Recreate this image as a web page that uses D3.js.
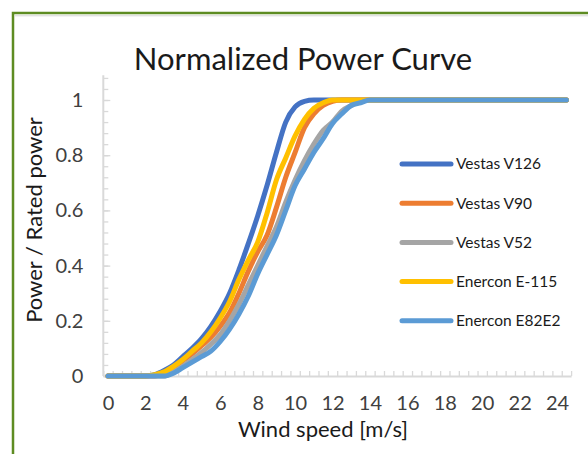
<!DOCTYPE html>
<html>
<head>
<meta charset="utf-8">
<script src="https://cdn.jsdelivr.net/npm/d3@7"></script>
<style>
  body { margin: 0; background: #fff; }
  svg { display: block; font-family: Lato, "Open Sans", sans-serif; }
</style>
</head>
<body>
<svg id="chart" width="588" height="454"></svg>
<script>
// wind speed categories [m/s]
var windSpeed = [0, 0.5, 1, 1.5, 2, 2.5, 3, 3.5, 4, 4.5, 5, 5.5, 6, 6.5, 7, 7.5, 8, 8.5, 9, 9.5,
  10, 10.5, 11, 11.5, 12, 12.5, 13, 13.5, 14, 14.5, 15, 15.5, 16, 16.5, 17, 17.5, 18, 18.5, 19, 19.5,
  20, 20.5, 21, 21.5, 22, 22.5, 23, 23.5, 24, 24.5]

// normalized power, P / P_rated
var vestasV126 = [0, 0, 0, 0, 0, 0.005, 0.02, 0.04, 0.07, 0.10, 0.135, 0.18, 0.235, 0.30, 0.385, 0.48, 0.58, 0.69, 0.81, 0.92,
  0.975, 0.995, 1, 1, 1, 1, 1, 1, 1, 1, 1, 1, 1, 1, 1, 1, 1, 1, 1, 1,
  1, 1, 1, 1, 1, 1, 1, 1, 1, 1]
var vestasV90 = [0, 0, 0, 0, 0, 0, 0.01, 0.03, 0.055, 0.08, 0.11, 0.14, 0.18, 0.23, 0.30, 0.38, 0.45, 0.51, 0.61, 0.72,
  0.81, 0.90, 0.95, 0.98, 0.995, 1, 1, 1, 1, 1, 1, 1, 1, 1, 1, 1, 1, 1, 1, 1,
  1, 1, 1, 1, 1, 1, 1, 1, 1, 1]
var vestasV52 = [0, 0, 0, 0, 0, 0, 0, 0.015, 0.035, 0.06, 0.085, 0.115, 0.15, 0.20, 0.26, 0.33, 0.40, 0.47, 0.54, 0.63,
  0.71, 0.78, 0.84, 0.89, 0.92, 0.96, 0.98, 0.995, 1, 1, 1, 1, 1, 1, 1, 1, 1, 1, 1, 1,
  1, 1, 1, 1, 1, 1, 1, 1, 1, 1]
var enerconE115 = [0, 0, 0, 0, 0, 0.005, 0.015, 0.035, 0.06, 0.09, 0.12, 0.16, 0.21, 0.27, 0.35, 0.42, 0.485, 0.59, 0.71, 0.79,
  0.87, 0.93, 0.97, 0.99, 1, 1, 1, 1, 1, 1, 1, 1, 1, 1, 1, 1, 1, 1, 1, 1,
  1, 1, 1, 1, 1, 1, 1, 1, 1, 1]
var enerconE82E2 = [0, 0, 0, 0, 0, 0, 0, 0.01, 0.03, 0.05, 0.07, 0.09, 0.125, 0.17, 0.225, 0.29, 0.37, 0.44, 0.51, 0.60,
  0.69, 0.75, 0.81, 0.86, 0.915, 0.95, 0.98, 0.99, 1, 1, 1, 1, 1, 1, 1, 1, 1, 1, 1, 1,
  1, 1, 1, 1, 1, 1, 1, 1, 1, 1]

var seriesNames = ["Vestas V126", "Vestas V90", "Vestas V52", "Enercon E-115", "Enercon E82E2"]
var seriesValues = [vestasV126, vestasV90, vestasV52, enerconE115, enerconE82E2]
var colors = ["#4472C4", "#ED7D31", "#A5A5A5", "#FFC000", "#5B9BD5"]

var xTickLabels = [0, 2, 4, 6, 8, 10, 12, 14, 16, 18, 20, 22, 24]
var yTickLabels = [0, 0.2, 0.4, 0.6, 0.8, 1]

var svg = d3.select("#chart")

// chart frame (green border, runs off right/bottom)
svg.append("rect")
  .attr("x", 13).attr("y", 13)
  .attr("width", 620).attr("height", 480)
  .attr("fill", "#fff")
  .attr("stroke", "#5E8C22")
  .attr("stroke-width", 2.5)

svg.append("line")
  .attr("x1", 15).attr("x2", 588)
  .attr("y1", 15.8).attr("y2", 15.8)
  .attr("stroke", "#d6d6d6").attr("stroke-width", 1)

// scales: category axis, each category 0.5 m/s wide
var x = d3.scaleLinear()
  .domain([-0.25, 24.75])
  .range([103.3, 571.1])

var y = d3.scaleLinear()
  .domain([0, 1])
  .range([376, 100])

var axisColor = "#d9d9d9"

// x axis minor ticks at category boundaries
var xBounds = windSpeed.map(d => d - 0.25).concat([24.75])
var xAxisG = svg.append("g")
  .attr("transform", "translate(0," + y(0) + ")")
  .call(d3.axisBottom(x).tickValues(xBounds).tickFormat("").tickSizeInner(-5).tickSizeOuter(0))
xAxisG.select(".domain").attr("stroke", axisColor).attr("stroke-width", 2)
xAxisG.selectAll(".tick line").attr("stroke", axisColor).attr("stroke-width", 1.3)

// x tick labels
var xLabelG = svg.append("g")
  .attr("transform", "translate(0," + y(0) + ")")
  .call(d3.axisBottom(x).tickValues(xTickLabels).tickSize(0).tickPadding(20))
xLabelG.select(".domain").remove()
xLabelG.selectAll("text")
  .attr("font-family", "Lato, sans-serif")
  .attr("font-size", 20)
  .attr("fill", "#404040")

// y axis: minor ticks every 0.04
var yMinor = d3.range(0, 28).map(i => +(i * 0.04).toFixed(2))
var yAxisG = svg.append("g")
  .attr("transform", "translate(" + x(-0.25) + ",0)")
  .call(d3.axisLeft(y).tickValues(yMinor).tickFormat("").tickSizeInner(-5).tickSizeOuter(0))
yAxisG.select(".domain").attr("d", "M0," + y(0) + "V" + y(1.09))
  .attr("stroke", axisColor).attr("stroke-width", 2)
yAxisG.selectAll(".tick line").attr("stroke", axisColor).attr("stroke-width", 1.3)

var yLabelG = svg.append("g")
  .attr("transform", "translate(" + x(-0.25) + ",0)")
  .call(d3.axisLeft(y).tickValues(yTickLabels).tickSize(-7).tickPadding(20).tickFormat(d3.format("")))
yLabelG.select(".domain").remove()
yLabelG.selectAll(".tick line").attr("stroke", axisColor).attr("stroke-width", 1.3)
yLabelG.selectAll("text")
  .attr("font-family", "Lato, sans-serif")
  .attr("font-size", 20)
  .attr("fill", "#404040")

// lines
var line = d3.line()
  .x((d, i) => x(windSpeed[i]))
  .y(d => y(d))
  .curve(d3.curveMonotoneX)

svg.append("g").selectAll("path")
  .data(seriesValues)
  .enter().append("path")
  .attr("d", d => line(d))
  .attr("fill", "none")
  .attr("stroke", (d, i) => colors[i])
  .attr("stroke-width", 5)
  .attr("stroke-linecap", "round")
  .attr("stroke-linejoin", "round")

// title
svg.append("text")
  .attr("x", 303).attr("y", 70)
  .attr("text-anchor", "middle")
  .attr("font-size", 31)
  .attr("fill", "#1a1a1a")
  .text("Normalized Power Curve")

// axis titles
svg.append("text")
  .attr("x", 323).attr("y", 437)
  .attr("text-anchor", "middle")
  .attr("font-size", 22)
  .attr("fill", "#1a1a1a")
  .text("Wind speed [m/s]")

svg.append("text")
  .attr("transform", "translate(42,220) rotate(-90)")
  .attr("text-anchor", "middle")
  .attr("font-size", 22)
  .attr("fill", "#1a1a1a")
  .text("Power / Rated power")

// legend
var legend = svg.append("g").selectAll("g")
  .data(seriesNames)
  .enter().append("g")
  .attr("transform", (d, i) => "translate(400," + (164 + i * 39.2) + ")")

legend.append("line")
  .attr("x1", 2).attr("x2", 51)
  .attr("stroke", (d, i) => colors[i])
  .attr("stroke-width", 5)
  .attr("stroke-linecap", "round")

legend.append("text")
  .attr("x", 56)
  .attr("dy", "0.35em")
  .attr("font-size", 15.5)
  .attr("fill", "#1a1a1a")
  .text(d => d)
</script>
</body>
</html>
